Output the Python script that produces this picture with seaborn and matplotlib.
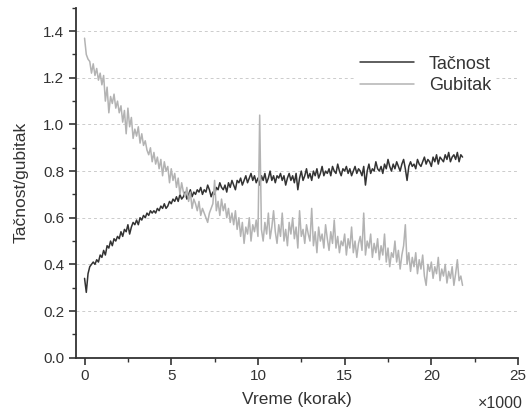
import numpy as np
import pandas as pd
import matplotlib
matplotlib.use("Agg")
import matplotlib.pyplot as plt
from matplotlib.ticker import MultipleLocator
import seaborn as sns

# koraci (x1000), svakih 100 koraka
koraci = np.round(np.arange(0, 21.85, 0.1), 1)

tacnost = [
    0.34, 0.28, 0.36, 0.39, 0.40, 0.41, 0.40, 0.42, 0.41, 0.44,
    0.43, 0.46, 0.44, 0.48, 0.47, 0.50, 0.48, 0.51, 0.50, 0.52,
    0.51, 0.54, 0.52, 0.55, 0.54, 0.57, 0.53, 0.56, 0.58, 0.57,
    0.59, 0.57, 0.60, 0.59, 0.61, 0.60, 0.62, 0.61, 0.63, 0.62,
    0.63, 0.62, 0.64, 0.63, 0.65, 0.64, 0.66, 0.64, 0.65, 0.67,
    0.66, 0.68, 0.67, 0.69, 0.67, 0.70, 0.68, 0.69, 0.71, 0.68,
    0.70, 0.72, 0.69, 0.71, 0.70, 0.72, 0.71, 0.73, 0.70, 0.72,
    0.71, 0.74, 0.72, 0.69, 0.71, 0.70, 0.73, 0.72, 0.75, 0.73,
    0.72, 0.74, 0.71, 0.75, 0.73, 0.76, 0.74, 0.72, 0.76, 0.75,
    0.77, 0.74, 0.76, 0.78, 0.75, 0.77, 0.79, 0.76, 0.78, 0.75,
    0.77, 0.74, 0.78, 0.76, 0.79, 0.75, 0.77, 0.80, 0.76, 0.78,
    0.75, 0.78, 0.77, 0.79, 0.76, 0.78, 0.74, 0.77, 0.79, 0.76,
    0.78, 0.75, 0.79, 0.72, 0.77, 0.80, 0.76, 0.78, 0.81, 0.77,
    0.79, 0.76, 0.80, 0.78, 0.81, 0.77, 0.79, 0.82, 0.78, 0.80,
    0.79, 0.81, 0.78, 0.82, 0.80, 0.79, 0.83, 0.80, 0.78, 0.81,
    0.80, 0.82, 0.79, 0.81, 0.78, 0.80, 0.82, 0.79, 0.81, 0.80,
    0.78, 0.82, 0.74, 0.80, 0.83, 0.79, 0.81, 0.80, 0.84, 0.81,
    0.80, 0.82, 0.79, 0.83, 0.81, 0.85, 0.82, 0.80, 0.83, 0.81,
    0.84, 0.82, 0.80, 0.83, 0.85, 0.81, 0.76, 0.82, 0.84, 0.82,
    0.83, 0.81, 0.85, 0.83, 0.82, 0.84, 0.86, 0.83, 0.85, 0.84,
    0.82, 0.86, 0.84, 0.87, 0.83, 0.86, 0.85, 0.84, 0.87, 0.85,
    0.88, 0.84, 0.86, 0.87, 0.85, 0.88, 0.84, 0.87, 0.86,
]

gubitak = [
    1.37, 1.30, 1.28, 1.27, 1.22, 1.26, 1.21, 1.24, 1.19, 1.22,
    1.17, 1.21, 1.10, 1.16, 1.05, 1.12, 1.09, 1.13, 1.07, 1.10,
    1.05, 1.08, 1.01, 1.06, 0.96, 1.07, 0.99, 1.03, 0.94, 0.98,
    0.95, 0.99, 0.92, 0.96, 0.91, 0.93, 0.89, 0.87, 0.90, 0.84,
    0.88, 0.83, 0.86, 0.81, 0.85, 0.78, 0.84, 0.80, 0.82, 0.75,
    0.81, 0.76, 0.79, 0.73, 0.77, 0.70, 0.75, 0.71, 0.69, 0.73,
    0.67, 0.71, 0.64, 0.68, 0.66, 0.63, 0.67, 0.61, 0.64, 0.62,
    0.60, 0.58, 0.62, 0.64, 0.66, 0.76, 0.63, 0.67, 0.61, 0.68,
    0.63, 0.66, 0.60, 0.64, 0.58, 0.62, 0.57, 0.63, 0.55, 0.60,
    0.52, 0.58, 0.49, 0.56, 0.53, 0.60, 0.50, 0.57, 0.54, 0.59,
    0.52, 1.04, 0.55, 0.50, 0.58, 0.53, 0.62, 0.51, 0.56, 0.63,
    0.54, 0.49, 0.57, 0.52, 0.62, 0.50, 0.55, 0.48, 0.58, 0.53,
    0.60, 0.51, 0.56, 0.47, 0.63, 0.52, 0.55, 0.49, 0.57, 0.53,
    0.50, 0.64, 0.48, 0.54, 0.45, 0.56, 0.50, 0.53, 0.47, 0.57,
    0.51, 0.46, 0.54, 0.49, 0.59, 0.47, 0.52, 0.45, 0.50, 0.48,
    0.53, 0.44, 0.51, 0.47, 0.56, 0.45, 0.50, 0.43, 0.49, 0.52,
    0.46, 0.62, 0.44, 0.50, 0.47, 0.53, 0.43, 0.49, 0.45, 0.51,
    0.42, 0.48, 0.44, 0.53, 0.41, 0.47, 0.39, 0.45, 0.43, 0.50,
    0.41, 0.46, 0.38, 0.44, 0.48, 0.57, 0.40, 0.45, 0.37, 0.43,
    0.39, 0.45, 0.36, 0.42, 0.38, 0.44, 0.35, 0.31, 0.40, 0.37,
    0.41, 0.34, 0.39, 0.36, 0.43, 0.33, 0.38, 0.35, 0.40, 0.32,
    0.37, 0.34, 0.39, 0.31, 0.36, 0.42, 0.33, 0.35, 0.31,
]

df = pd.DataFrame({"korak": koraci, "Tačnost": tacnost, "Gubitak": gubitak})
df = df.melt(id_vars="korak", var_name="serija", value_name="vrednost")

sns.set_theme(style="ticks")
plt.rcParams['font.family'] = ['Liberation Sans', 'DejaVu Sans']

fig = plt.figure(figsize=(5.27, 4.13), dpi=100)
ax = fig.add_axes([0.144, 0.134, 0.839, 0.847])

ax.yaxis.grid(True, linestyle=(0, (3, 3)), color='#cccccc', linewidth=0.7)
ax.set_axisbelow(True)

sns.lineplot(data=df, x="korak", y="vrednost", hue="serija",
             palette={"Tačnost": "#333333", "Gubitak": "#b3b3b3"},
             linewidth=1.1, ax=ax)

ax.set_xlim(-0.5, 25)
ax.set_ylim(0, 1.5)
ax.xaxis.set_major_locator(MultipleLocator(5))
ax.xaxis.set_minor_locator(MultipleLocator(2.5))
ax.set_yticks(np.arange(0, 1.41, 0.2))
ax.yaxis.set_minor_locator(MultipleLocator(0.1))
ax.yaxis.set_major_formatter(matplotlib.ticker.FormatStrFormatter('%.1f'))

for s in ['top', 'right']:
    ax.spines[s].set_visible(False)
for s in ['left', 'bottom']:
    ax.spines[s].set_color('#333333')
    ax.spines[s].set_linewidth(1.3)
ax.tick_params(which='major', direction='out', length=5, width=1.2,
               color='#333333', labelsize=11, labelcolor='#333333')
ax.tick_params(which='minor', direction='out', length=3, width=1.0,
               color='#333333')

ax.set_xlabel("Vreme (korak)", fontsize=12.5, color='#333333', labelpad=6)
ax.set_ylabel("Tačnost/gubitak", fontsize=12.5, color='#333333', labelpad=10)

leg = ax.legend(loc='upper left', bbox_to_anchor=(0.61, 0.905), fontsize=13,
                handlelength=3.0, handletextpad=0.8, labelspacing=0.25,
                frameon=True, facecolor='white', edgecolor='none',
                framealpha=1, borderpad=0.3, title=None)
for t in leg.get_texts():
    t.set_color('#333333')

fig.text(0.992, 0.024, "×1000", ha='right', va='center', fontsize=11.5,
         color='#333333')

fig.savefig("out.png", dpi=100)
